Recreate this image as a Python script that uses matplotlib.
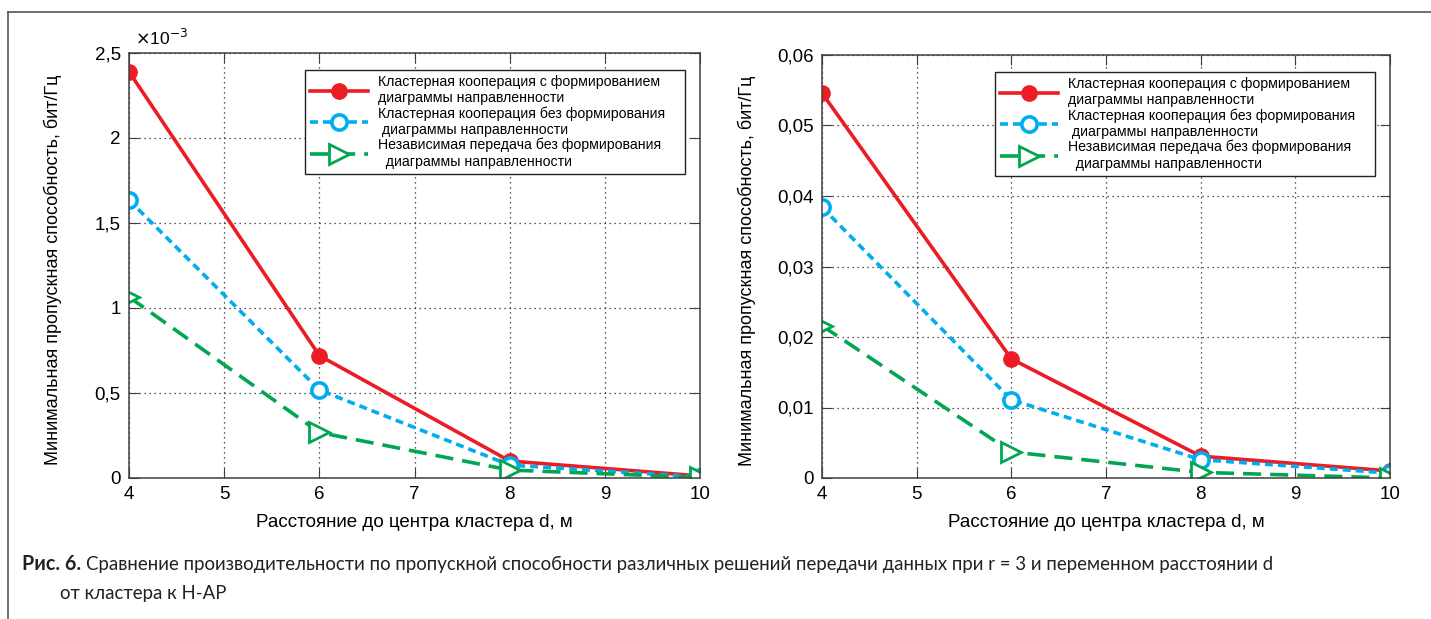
import numpy as np
import matplotlib
matplotlib.use('Agg')
import matplotlib.pyplot as plt
from matplotlib.ticker import FuncFormatter

# data
d = [4, 6, 8, 10]

# left panel (values in bit/Hz, shown as x1e-3)
left_bf = [2.39e-3, 0.72e-3, 0.10e-3, 0.012e-3]
left_nobf = [1.635e-3, 0.518e-3, 0.076e-3, 0.006e-3]
left_ind = [1.065e-3, 0.268e-3, 0.047e-3, 0.003e-3]

# right panel
right_bf = [0.0546, 0.0169, 0.0031, 0.0010]
right_nobf = [0.0384, 0.0111, 0.0026, 0.0007]
right_ind = [0.0216, 0.0037, 0.0008, 0.0]

# trailing spaces give the wider right margin of the original legend box
labels = ["Кластерная кооперация с формированием    \nдиаграммы направленности",
          "Кластерная кооперация без формирования    \n диаграммы направленности",
          "Независимая передача без формирования    \n  диаграммы направленности"]

xlabel = "Расстояние до центра кластера d, м"
ylabel = "Минимальная пропускная способность, бит/Гц"

RED = '#ec1c24'
BLUE = '#00aeef'
GREEN = '#00a651'
AX = '#404040'
FS = 13.5

plt.rcParams['font.family'] = ['Liberation Sans', 'DejaVu Sans']

W, H = 1431, 619
fig = plt.figure(figsize=(W / 100, H / 100), dpi=100)


def box(l, t, r, b):
    return [l / W, 1 - b / H, (r - l) / W, (b - t) / H]


def panel(ax, bf, nobf, ind, ylim, yticks, scale):
    ax.plot(d, bf, '-', color=RED, lw=2.6, marker='o', ms=11, label=labels[0])
    ax.plot(d, nobf, color=BLUE, lw=2.6, dashes=(2.2, 1.4), marker='o', ms=11,
            mfc='white', mew=2.6, label=labels[1])
    ax.plot(d, ind, color=GREEN, lw=2.6, dashes=(5, 2.5), marker='>', ms=14,
            mfc='white', mew=2.0, label=labels[2])
    ax.set_xlim(4, 10)
    ax.set_ylim(*ylim)
    ax.set_xticks([4, 5, 6, 7, 8, 9, 10])
    ax.set_yticks(yticks)
    ax.yaxis.set_major_formatter(FuncFormatter(
        lambda v, p: ('%g' % round(v * scale, 6)).replace('.', ',')))
    ax.grid(True, linestyle=(0, (1, 3)), color='#222222', lw=0.9)
    ax.tick_params(direction='in', top=True, right=True, labelsize=FS,
                   length=7, color=AX, pad=6)
    for s in ax.spines.values():
        s.set_color(AX)
        s.set_linewidth(1.1)
    ax.set_xlabel(xlabel, fontsize=FS, labelpad=8)
    ax.set_ylabel(ylabel, fontsize=13)
    ax.yaxis.set_label_coords(-0.117, 0.49)
    leg = ax.legend(loc='upper right', bbox_to_anchor=(0.974, 0.96),
                    borderaxespad=0, fontsize=10.2, numpoints=1,
                    handlelength=4.1, fancybox=False, framealpha=1,
                    edgecolor='#222222', borderpad=0.35, labelspacing=0.08,
                    handletextpad=0.7)
    leg.get_frame().set_linewidth(1.0)


ax1 = fig.add_axes(box(129, 53, 700, 478))
panel(ax1, left_bf, left_nobf, left_ind, (0, 2.5e-3),
      [0, 0.5e-3, 1e-3, 1.5e-3, 2e-3, 2.5e-3], 1e3)
ax1.text(0.01, 1.012, r'$\times$10$^{-3}$', transform=ax1.transAxes,
         fontsize=12.5, ha='left', va='bottom')

ax2 = fig.add_axes(box(822, 55, 1390, 478))
panel(ax2, right_bf, right_nobf, right_ind, (0, 0.06),
      [0, 0.01, 0.02, 0.03, 0.04, 0.05, 0.06], 1)

# outer frame (left and top edges)
fig.add_artist(plt.Line2D([8 / W, 8 / W], [0, 1 - 12 / H], color='#555555',
                          lw=1.2, transform=fig.transFigure))
fig.add_artist(plt.Line2D([8 / W, 1], [1 - 12 / H, 1 - 12 / H], color='#555555',
                          lw=1.2, transform=fig.transFigure))

# caption
cap_font = ['Lato', 'DejaVu Sans']
CFS = 13.4
t1 = fig.text(22 / W, 1 - 564 / H, "Рис. 6.", fontsize=CFS + 0.8,
              fontweight='bold', family=cap_font, va='center', color='#222222')
fig.canvas.draw()
bb = t1.get_window_extent()
fig.text((bb.x1 + 5) / W, 1 - 564 / H,
         "Сравнение производительности по пропускной способности различных "
         "решений передачи данных при r = 3 и переменном расстоянии d",
         fontsize=CFS, family=cap_font, va='center', color='#222222')
fig.text(60 / W, 1 - 593 / H, "от кластера к H-AP", fontsize=CFS,
         family=cap_font, va='center', color='#222222')

fig.savefig('out.png', dpi=100)
